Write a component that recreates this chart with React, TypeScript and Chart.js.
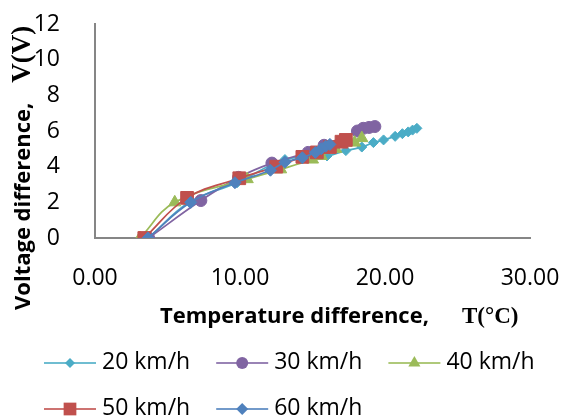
import React, { useEffect, useRef } from 'react';
import { Chart, registerables } from 'chart.js';

Chart.register(...registerables);

// ---- data ----
const seriesNames = ['20 km/h', '30 km/h', '40 km/h', '50 km/h', '60 km/h'];

const temp20 = [3.7, 6.5, 9.8, 13.1, 16.0, 17.3, 18.4, 19.2, 19.9, 20.7, 21.2, 21.6, 21.9, 22.2];
const volt20 = [0, 2.0, 3.1, 4.4, 4.6, 4.9, 5.1, 5.35, 5.5, 5.7, 5.85, 5.95, 6.05, 6.15];

const temp30 = [3.7, 7.3, 9.9, 12.2, 14.7, 15.8, 18.1, 18.5, 18.9, 19.3];
const volt30 = [0, 2.1, 3.4, 4.2, 4.8, 5.2, 6.0, 6.15, 6.2, 6.25];

const temp40 = [3.1, 5.5, 10.5, 12.8, 15.0, 15.6, 16.6, 17.9, 18.4];
const volt40 = [0, 2.0, 3.3, 3.85, 4.4, 4.6, 5.0, 5.35, 5.6];

const temp50 = [3.4, 6.35, 9.95, 12.5, 14.3, 15.3, 16.2, 17.0, 17.3];
const volt50 = [0, 2.25, 3.35, 4.0, 4.55, 4.8, 5.1, 5.4, 5.5];

const temp60 = [3.65, 6.6, 9.65, 12.1, 13.1, 14.3, 15.2, 15.6, 15.9, 16.2];
const volt60 = [0, 2.0, 3.1, 3.8, 4.25, 4.5, 4.8, 5.0, 5.15, 5.25];

const xTicks = [0, 10, 20, 30];
const yTicks = [0, 2, 4, 6, 8, 10, 12];

const xTitleMain = 'Temperature difference,';
const xTitleUnit = 'T(°C)';
const yTitleMain = 'Voltage difference,';
const yTitleUnit = 'V(V)';

// ---- styles ----
const colors = ['#4BACC6', '#8064A2', '#9BBB59', '#C0504D', '#4F81BD'];
const pointStyles = ['rectRot', 'circle', 'triangle', 'rect', 'rectRot'];
const pointRadii = [5, 6, 7, 9, 6];

const seriesX = [temp20, temp30, temp40, temp50, temp60];
const seriesY = [volt20, volt30, volt40, volt50, volt60];

const SANS = '"Open Sans"';
const SERIF = '"Liberation Serif"';

function drawMarker(ctx: CanvasRenderingContext2D, style: string, x: number, y: number, r: number, color: string) {
  ctx.save();
  ctx.fillStyle = color;
  ctx.beginPath();
  if (style === 'rectRot') {
    ctx.moveTo(x, y - r);
    ctx.lineTo(x + r, y);
    ctx.lineTo(x, y + r);
    ctx.lineTo(x - r, y);
    ctx.closePath();
  } else if (style === 'circle') {
    ctx.arc(x, y, r, 0, Math.PI * 2);
  } else if (style === 'triangle') {
    const s = Math.sin((Math.PI * 2) / 3) * r;
    ctx.moveTo(x, y - r);
    ctx.lineTo(x + s, y + r / 2);
    ctx.lineTo(x - s, y + r / 2);
    ctx.closePath();
  } else {
    const h = Math.SQRT1_2 * r;
    ctx.rect(x - h, y - h, 2 * h, 2 * h);
  }
  ctx.fill();
  ctx.restore();
}

const decorPlugin = {
  id: 'decor',
  afterDraw(chart: any) {
    const ctx: CanvasRenderingContext2D = chart.ctx;
    ctx.save();
    ctx.fillStyle = '#000';

    // X axis title
    ctx.textBaseline = 'alphabetic';
    ctx.textAlign = 'left';
    ctx.font = `bold 22px ${SANS}`;
    const xStart = 160;
    ctx.fillText(xTitleMain, xStart, 323);
    const w1 = ctx.measureText(xTitleMain).width;
    ctx.font = `bold 23px ${SERIF}`;
    ctx.fillText(xTitleUnit, xStart + w1 + 33, 323);

    // Y axis title
    ctx.save();
    ctx.translate(30, 310);
    ctx.rotate(-Math.PI / 2);
    ctx.font = `bold 22px ${SANS}`;
    ctx.fillText(yTitleMain, 0, 0);
    const w2 = ctx.measureText(yTitleMain).width;
    ctx.font = `bold 27px ${SERIF}`;
    ctx.fillText(yTitleUnit, w2 + 20, 0);
    ctx.restore();

    // Legend
    ctx.font = `23px ${SANS}`;
    ctx.textBaseline = 'middle';
    const startX = 44;
    const rowYs = [363, 409];
    const lineLen = 52;
    const gap = 26;
    let x = startX;
    let row = 0;
    seriesNames.forEach((name, i) => {
      const tw = ctx.measureText(name).width;
      const itemW = lineLen + 6 + tw;
      if (x + itemW > 545) {
        row += 1;
        x = startX;
      }
      const y = rowYs[row];
      ctx.save();
      ctx.strokeStyle = colors[i];
      ctx.lineWidth = 2;
      ctx.globalAlpha = 0.8;
      ctx.beginPath();
      ctx.moveTo(x, y);
      ctx.lineTo(x + lineLen, y);
      ctx.stroke();
      ctx.restore();
      drawMarker(ctx, pointStyles[i], x + lineLen / 2, y, pointRadii[i], colors[i]);
      ctx.fillStyle = '#000';
      ctx.fillText(name, x + lineLen + 6, y - 1);
      x += itemW + gap;
    });
    ctx.restore();
  },
};

export default function App() {
  const canvasRef = useRef<HTMLCanvasElement | null>(null);

  useEffect(() => {
    if (!canvasRef.current) return;
    const datasets = seriesNames.map((name, i) => ({
      label: name,
      data: seriesX[i].map((t, j) => ({ x: t, y: seriesY[i][j] })),
      showLine: true,
      tension: 0.4,
      borderColor: colors[i],
      backgroundColor: colors[i],
      borderWidth: 1.75,
      pointStyle: pointStyles[i],
      pointRadius: pointRadii[i],
      pointBorderWidth: 1,
      pointBorderColor: colors[i],
      pointBackgroundColor: colors[i],
      order: 4 - i,
    }));

    const chart = new Chart(canvasRef.current, {
      type: 'scatter',
      data: { datasets },
      options: {
        animation: false,
        responsive: false,
        layout: { padding: { left: 0, right: 33, top: 24, bottom: 121 } },
        plugins: {
          legend: { display: false },
          tooltip: { enabled: false },
        },
        scales: {
          x: {
            type: 'linear',
            min: 0,
            max: 30,
            afterBuildTicks: (scale: any) => {
              scale.ticks = xTicks.map((v) => ({ value: v }));
            },
            afterFit: (scale: any) => {
              scale.height = 60;
              scale.paddingLeft = 0;
              scale.paddingRight = 0;
            },
            grid: { display: false },
            border: { display: true, color: '#868686', width: 2 },
            ticks: {
              padding: 19,
              color: '#000',
              font: { family: 'Open Sans', size: 23 },
              callback: (v: any) => Number(v).toFixed(2),
            },
          },
          y: {
            type: 'linear',
            min: 0,
            max: 12,
            afterBuildTicks: (scale: any) => {
              scale.ticks = yTicks.map((v) => ({ value: v }));
            },
            afterFit: (scale: any) => {
              scale.width = 95;
              scale.paddingTop = 0;
              scale.paddingBottom = 0;
            },
            grid: { display: false },
            border: { display: true, color: '#868686', width: 2 },
            ticks: {
              padding: 27,
              color: '#000',
              font: { family: 'Open Sans', size: 23 },
              callback: (v: any) => String(v),
            },
          },
        },
      },
      plugins: [decorPlugin],
    });
    return () => chart.destroy();
  }, []);

  return (
    <div style={{ position: 'fixed', left: 0, top: 0, width: 563, height: 419, background: '#fff' }}>
      <canvas ref={canvasRef} width={563} height={419} style={{ display: 'block' }} />
    </div>
  );
}
